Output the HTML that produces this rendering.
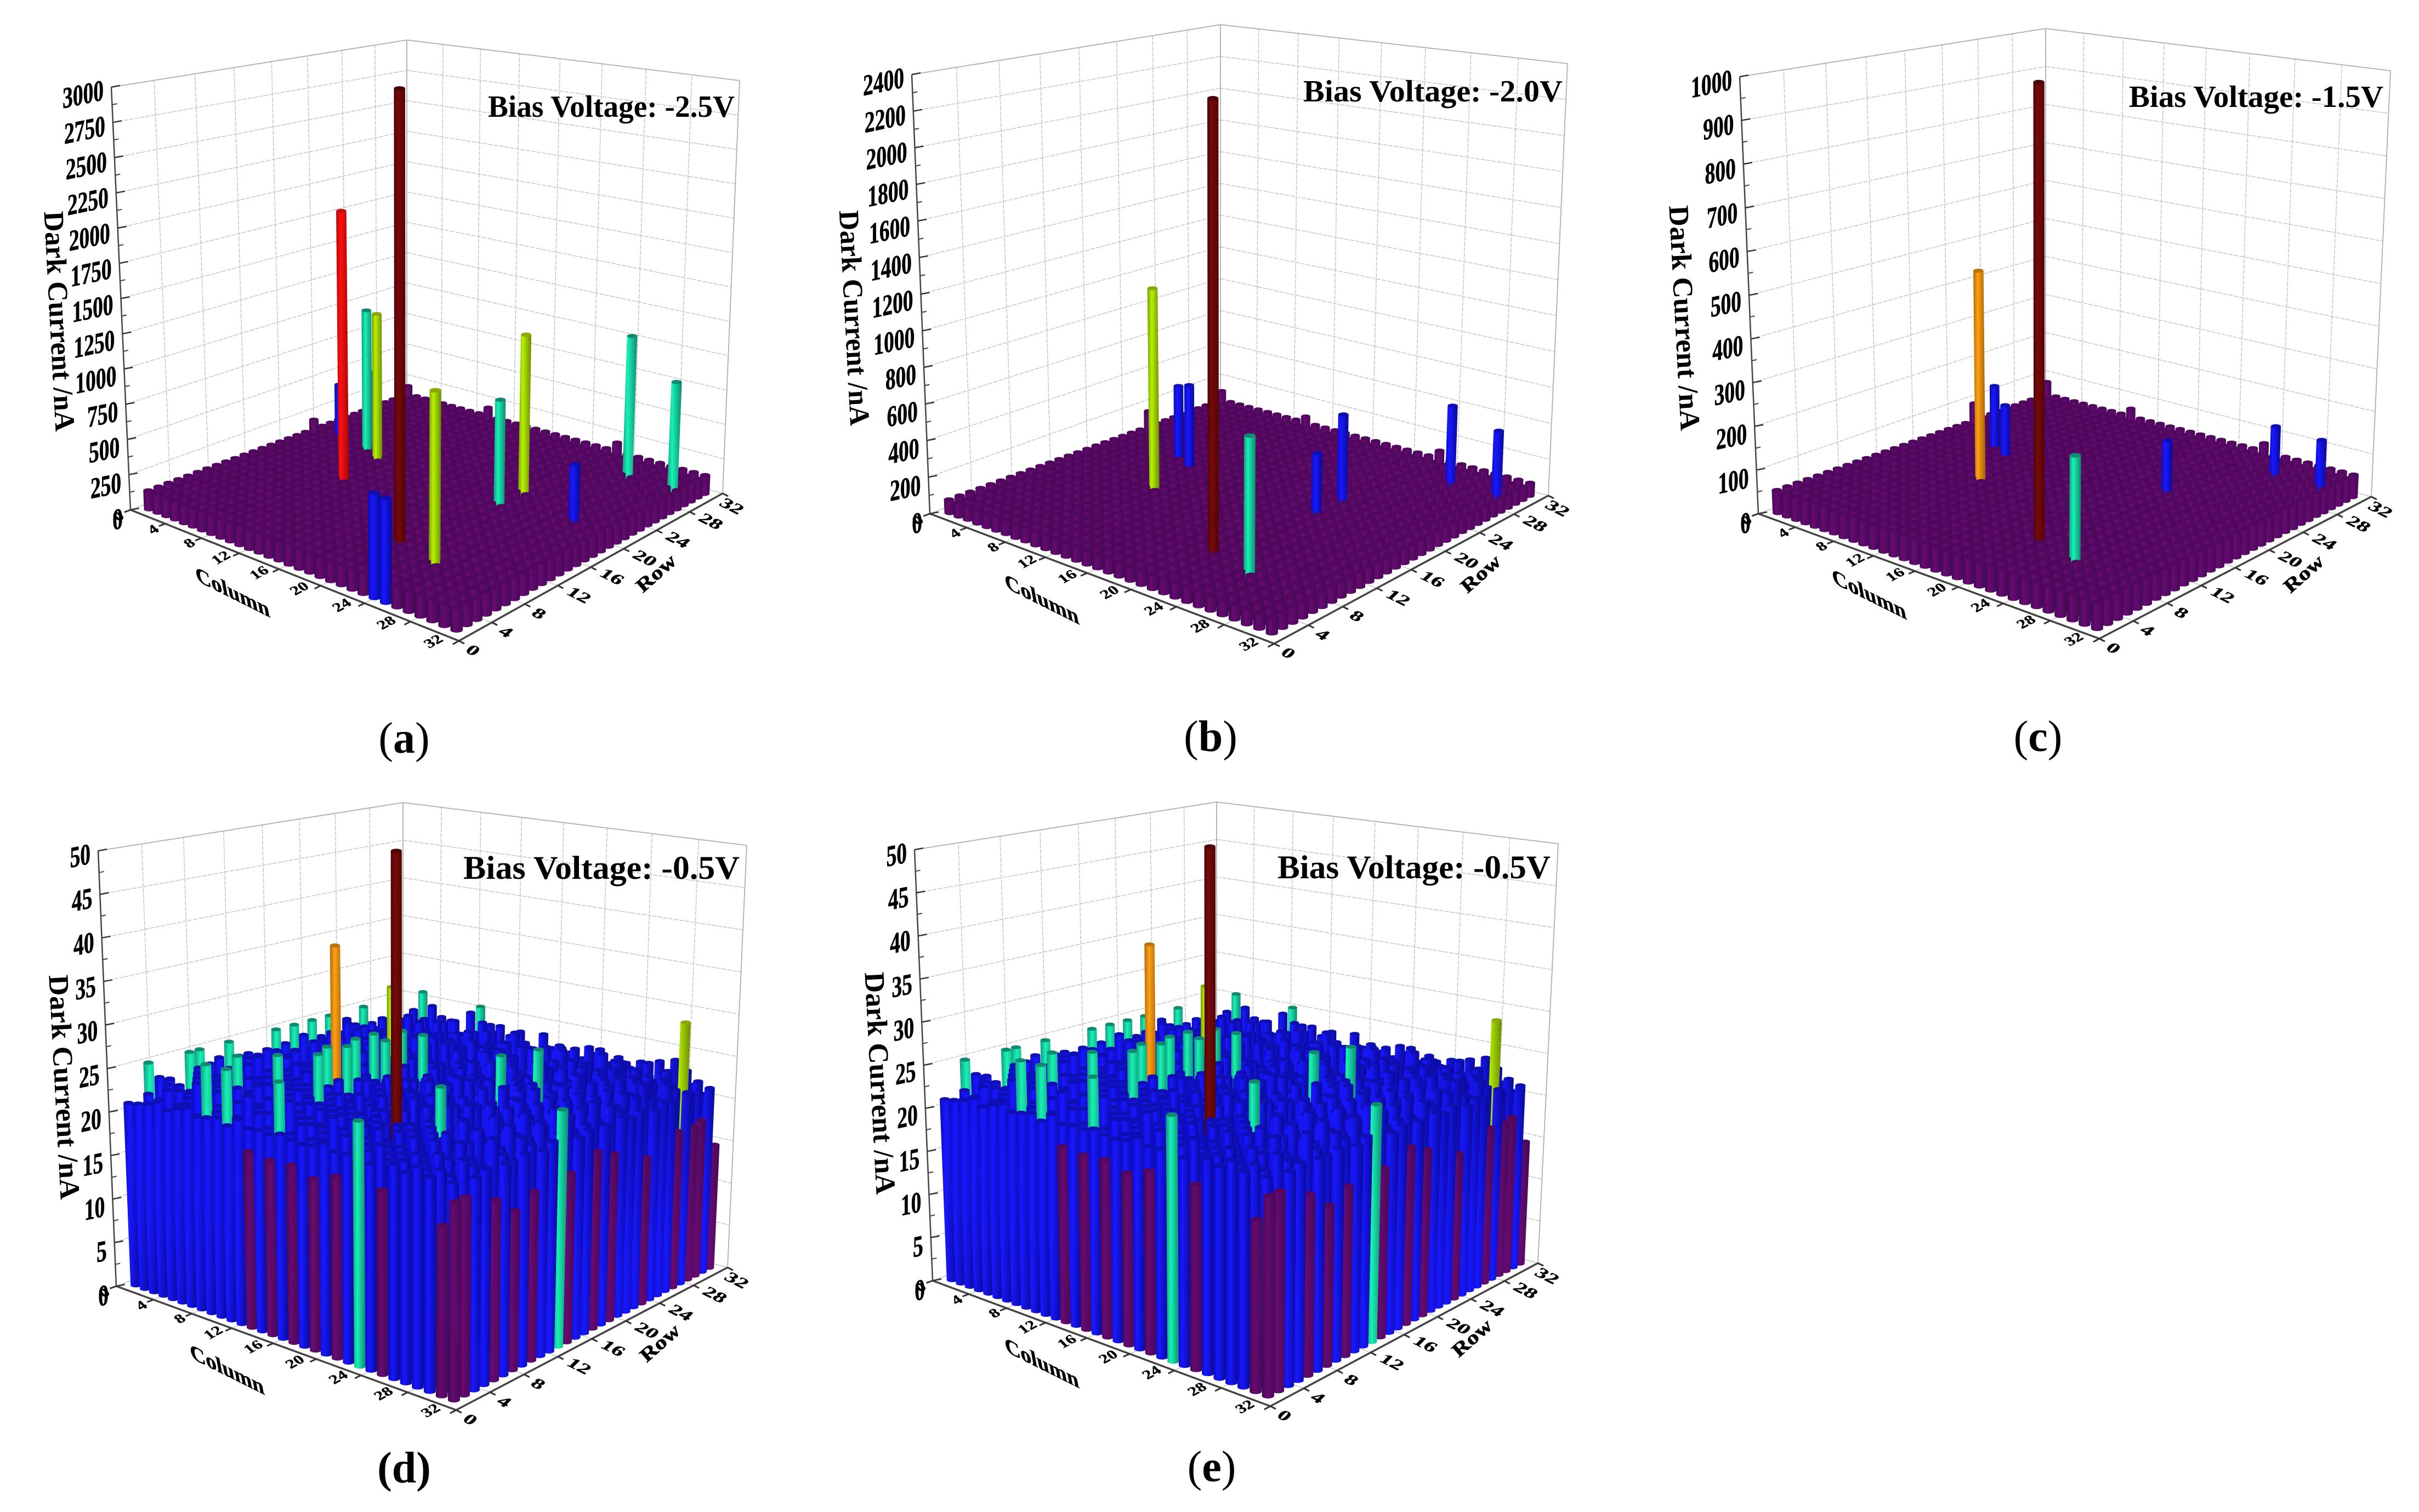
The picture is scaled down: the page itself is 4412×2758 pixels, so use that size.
<!DOCTYPE html>
<html lang="en">
<head>
<meta charset="utf-8">
<title>Dark current maps at several bias voltages</title>
<style>
html,body{margin:0;padding:0;background:#fff;}
svg{display:block;}
text{font-family:"Liberation Serif",serif;fill:#000;}
.b{font-weight:bold;}
.heavy{stroke:#000;stroke-width:.9px;}
</style>
</head>
<body>
<svg id="figure" xmlns="http://www.w3.org/2000/svg" width="4412" height="2758" viewBox="0 0 4412 2758">
  <rect x="0" y="0" width="4412" height="2758" fill="#fff"/>
  <defs id="defs"></defs>

  <g id="panel-a">
    <g id="plot-a"></g>
    <text class="b" transform="translate(108,586) rotate(87)" y="17" text-anchor="middle" font-size="52" textLength="402" lengthAdjust="spacingAndGlyphs">Dark Current /nA</text>
    <text class="b heavy" transform="matrix(.78,.39,.15,.8,424,1081)" y="15" text-anchor="middle" font-size="50">Column</text>
    <text class="b heavy" transform="matrix(.68,-.6,.48,.55,1197,1046)" y="15" text-anchor="middle" font-size="48">Row</text>
    <text class="b" x="890" y="213" font-size="56" textLength="450" lengthAdjust="spacingAndGlyphs">Bias Voltage: -2.5V</text>
    <text x="737" y="1373" text-anchor="middle" font-size="80">(<tspan class="b">a</tspan>)</text>
  </g>

  <g id="panel-b">
    <g id="plot-b"></g>
    <text class="b" transform="translate(1558,580) rotate(87)" y="17" text-anchor="middle" font-size="52" textLength="393" lengthAdjust="spacingAndGlyphs">Dark Current /nA</text>
    <text class="b heavy" transform="matrix(.78,.39,.15,.8,1900,1094)" y="15" text-anchor="middle" font-size="50">Column</text>
    <text class="b heavy" transform="matrix(.68,-.6,.48,.55,2701,1047)" y="15" text-anchor="middle" font-size="48">Row</text>
    <text class="b" x="2377" y="185" font-size="56" textLength="473" lengthAdjust="spacingAndGlyphs">Bias Voltage: -2.0V</text>
    <text x="2208" y="1370" text-anchor="middle" font-size="80">(<tspan class="b">b</tspan>)</text>
  </g>

  <g id="panel-c">
    <g id="plot-c"></g>
    <text class="b" transform="translate(3072,580) rotate(87)" y="17" text-anchor="middle" font-size="52" textLength="411" lengthAdjust="spacingAndGlyphs">Dark Current /nA</text>
    <text class="b heavy" transform="matrix(.78,.39,.15,.8,3409,1085)" y="15" text-anchor="middle" font-size="50">Column</text>
    <text class="b heavy" transform="matrix(.68,-.6,.48,.55,4202,1047)" y="15" text-anchor="middle" font-size="48">Row</text>
    <text class="b" x="3883" y="195" font-size="56" textLength="464" lengthAdjust="spacingAndGlyphs">Bias Voltage: -1.5V</text>
    <text x="3717" y="1370" text-anchor="middle" font-size="80">(<tspan class="b">c</tspan>)</text>
  </g>

  <g id="panel-d">
    <g id="plot-d"></g>
    <text class="b" transform="translate(117,1983) rotate(87)" y="17" text-anchor="middle" font-size="52" textLength="410" lengthAdjust="spacingAndGlyphs">Dark Current /nA</text>
    <text class="b heavy" transform="matrix(.78,.39,.15,.8,414,2499)" y="15" text-anchor="middle" font-size="50">Column</text>
    <text class="b heavy" transform="matrix(.68,-.6,.48,.55,1204,2450)" y="15" text-anchor="middle" font-size="48">Row</text>
    <text class="b" x="845" y="1603" font-size="60" textLength="504" lengthAdjust="spacingAndGlyphs">Bias Voltage: -0.5V</text>
    <text class="b" x="737" y="2704" text-anchor="middle" font-size="80">(d)</text>
  </g>

  <g id="panel-e">
    <g id="plot-e"></g>
    <text class="b" transform="translate(1605,1976) rotate(87)" y="17" text-anchor="middle" font-size="52" textLength="406" lengthAdjust="spacingAndGlyphs">Dark Current /nA</text>
    <text class="b heavy" transform="matrix(.78,.39,.15,.8,1900,2487)" y="15" text-anchor="middle" font-size="50">Column</text>
    <text class="b heavy" transform="matrix(.68,-.6,.48,.55,2685,2441)" y="15" text-anchor="middle" font-size="48">Row</text>
    <text class="b" x="2330" y="1602" font-size="60" textLength="498" lengthAdjust="spacingAndGlyphs">Bias Voltage: -0.5V</text>
    <text x="2210" y="2702" text-anchor="middle" font-size="80">(<tspan class="b">e</tspan>)</text>
  </g>
</svg>

<script>
/* ---------- chart data ---------- */
const columnTicks = [0,4,8,12,16,20,24,28,32];
const rowTicks = [0,4,8,12,16,20,24,28,32];

const yTicksA = [0,250,500,750,1000,1250,1500,1750,2000,2250,2500,2750,3000];
const yTicksB = [0,200,400,600,800,1000,1200,1400,1600,1800,2000,2200,2400];
const yTicksC = [0,100,200,300,400,500,600,700,800,900,1000];
const yTicksD = [0,5,10,15,20,25,30,35,40,45,50];

/* Colour class boundaries (nA) */
const levelsA = [375,750,1170,1500,1875,2500];
const levelsB = [250,600,900,1400,1800,2100];
const levelsC = [125,250,375,500,625,800];
const levelsD = [20,24.9,28.5,35,42,47];

/* Typical pixel current in the three high-bias maps */
const baseA = 135;
const baseB = 75;
const baseC = 53;

/* Defective pixels: column, row, current */
const spikeColsA = [21,10,7,9,3,6,24,25,25,22,22,26,30,28];
const spikeRowsA = [7,13,19,18,20,21,1,1,6,17,20,28,28,18];
const spikeValsA = [3080,2046,1160,1185,496,627,654,646,1196,822,1213,1108,851,481];

const spikeColsB = [21,10,7,9,25,22,22,26,30];
const spikeRowsB = [7,13,19,18,6,17,20,28,28];
const spikeValsB = [2364,1165,466,519,724,367,519,483,407];

const spikeColsC = [21,10,6,8,25,22,26,30];
const spikeRowsC = [7,13,19,18,6,20,28,28];
const spikeValsC = [1025,530,192,165,259,159,156,151];

/* Slightly raised pixels on the back edges */
const bumpColsA = [1,10,23,1];
const bumpRowsA = [19,31,31,31];
const bumpValsA = [207,200,198,200];

const bumpColsB = [1,10,23,1];
const bumpRowsB = [22,31,31,31];
const bumpValsB = [168,110,120,130];

const bumpColsC = [1,10,23,1];
const bumpRowsC = [22,31,31,31];
const bumpValsC = [95,72,72,85];

/* Low-bias map: one line per column, values for rows 1..31 (nA) */
const currentLowBias = [
[21,20.5,25,23,22.5,20.5,25,25,23,22,25,23,23,22.5,22.5,25,23,25,23,25,22.7,25,22.6,24,23,25,22.6,21.7,21.7,22.6,21.9],
[21.2,22,21,23,22,21,23,22,24,21,22,23,21,22,23,22,21,24,22,23,21,22,24,21,23,22,21,23,22,21,23.4],
[21.5,21,23,22,21,24,22,21,23,22,21,22,24,21,22,23,21,22,23,24,22,21,23,22,21,24,22,21,23,22,26],
[22,23,21,22,24,21,23,22,21,23,24,22,21,23,22,21,24,22,21,23,22,24,21,22,23,21,22,24,21,23,24.4],
[21.3,21,22,24,21,23,22,21,24,22,21,23,22,24,21,22,23,21,24,22,23,21,22,23,24,22,21,23,22,21,23.2],
[21.8,22,24,21,23,22,21,23,22,21,24,22,23,21,22,24,21,23,22,21,23,24,22,21,23,22,24,21,22,23,23],
[22.2,21,22,23,21,24,22,21,23,24,22,21,23,22,24,21,22,23,21,22,24,21,23,22,21,23,22,24,21,22,21.5],
[21.5,27,22,21,27,22,23,21,24,22,21,23,22,21,23,24,22,21,23,22,21,24,22,23,21,22,23,21,24,22,24.5],
[21.7,22,21,24,22,21,23,22,21,23,22,24,21,22,23,21,24,22,21,23,22,21,24,22,23,21,22,23,21,22,25.5],
[22,27,23,21,22,24,27,21,23,22,21,24,38,22,21,23,22,21,24,22,23,21,22,24,21,23,22,21,23,24,23.4],
[21.4,22,24,21,23,22,21,23,22,21,27,22,23,27,21,27,23,32,22,21,23,24,21,22,23,21,24,22,21,23,23.5],
[22.4,21,23,22,21,24,22,21,27,23,22,27,21,23,22,21,24,27,21,23,22,21,24,22,23,21,22,24,21,22,22.5],
[19.2,23,21,22,24,21,23,22,21,24,22,21,23,22,27,21,22,24,21,23,22,21,23,22,24,21,23,22,21,22,23.3],
[21.8,21,22,24,21,23,22,21,23,22,24,21,22,23,21,24,22,27,21,23,22,24,21,22,23,21,22,23,24,21,21],
[18.9,27,21,23,22,21,24,22,21,23,22,21,24,22,23,21,22,24,21,22,23,21,22,24,21,23,22,21,23,22,20.8],
[22,21,23,22,21,24,22,23,21,22,24,21,23,22,21,23,24,22,21,23,22,21,24,22,23,21,22,23,21,24,22],
[19,23,21,22,24,21,23,22,21,24,22,21,23,22,24,21,22,23,21,24,22,23,21,22,23,24,21,22,23,21,22.3],
[21.5,21,22,24,21,23,22,21,24,22,23,21,22,24,21,23,22,21,23,22,24,21,23,22,21,24,22,21,23,22,22],
[18.2,22,24,21,23,22,21,23,22,21,24,22,23,21,22,24,21,23,22,21,23,24,22,21,23,22,21,24,22,23,21.5],
[22.3,21,23,22,21,24,22,21,23,24,22,21,23,22,21,24,22,23,21,22,24,21,22,23,21,23,24,22,21,22,22.3],
[19.1,23,21,22,24,21,52,22,21,23,22,24,21,23,22,21,24,22,21,23,22,21,24,23,22,21,23,22,24,21,21.5],
[21.7,21,22,24,21,23,22,21,24,22,21,23,22,21,24,22,27,21,23,22,21,24,22,23,21,22,23,21,24,22,22],
[25.5,22,24,21,23,22,21,23,22,24,21,22,23,21,22,24,21,23,22,27,23,21,24,22,21,23,22,24,21,23,22],
[21.4,23,21,22,24,21,23,27,21,22,24,21,23,22,21,23,22,24,21,22,23,21,22,24,21,23,22,21,23,22,21],
[19,21,22,24,21,23,22,21,23,22,21,24,22,23,21,22,24,21,23,22,21,24,22,21,23,22,24,21,22,23,21],
[22,22,24,21,23,22,21,24,22,21,23,22,21,24,22,23,21,22,24,21,23,22,21,23,24,22,21,23,22,21,23],
[21.5,23,21,22,24,21,22,23,21,24,22,21,23,22,21,24,22,23,21,22,24,21,23,22,21,23,22,24,21,22,20.5],
[22.4,21,23,22,21,23,24,22,21,23,22,24,21,22,23,21,22,24,21,23,22,21,24,22,23,21,22,21,23,24,22],
[21.6,22,21,24,22,21,23,22,24,21,22,23,21,24,22,21,23,22,21,24,22,23,21,22,24,21,23,22,21,23,21],
[17.1,21,23,22,21,24,22,21,23,22,24,21,22,23,21,22,24,21,23,22,21,23,24,22,21,23,22,29.5,21,22,20.2],
[19.8,19.9,21.5,22,18.4,21.7,16.5,22,17.7,21.6,22.2,25.2,18.1,21.5,22,19.3,21.8,18.3,22,21.6,22.1,16.4,21.4,22,21.7,17.9,22,17.8,18.1,21.5,14.5]
];

/* ---------- rendering ---------- */
const NS = 'http://www.w3.org/2000/svg';
const classNames = ['purple','blue','cyan','lime','orange','red','maroon'];
const classStops = [
  ['#3e0a50','#680a72','#450a56'],
  ['#0b0bc0','#1818ff','#0a0a96'],
  ['#129a80','#18f2b4','#0e8a70'],
  ['#7d9c08','#b6f200','#6c8a05'],
  ['#b06c08','#ffa012','#a06008'],
  ['#b00a0a','#ff1010','#a00808'],
  ['#4c0505','#760a0a','#520505']
];
const capColors = ['#52085f','#0f0fb4','#0f8a70','#8aa806','#b87408','#c01010','#4a0606'];

const defs = document.getElementById('defs');
classNames.forEach(function (name, i) {
  const grad = document.createElementNS(NS, 'linearGradient');
  grad.setAttribute('id', 'grad-' + name);
  grad.setAttribute('x1', '0');
  grad.setAttribute('x2', '1');
  grad.setAttribute('y1', '0');
  grad.setAttribute('y2', '0');
  [0, 0.36, 1].forEach(function (off, k) {
    const stop = document.createElementNS(NS, 'stop');
    stop.setAttribute('offset', off);
    stop.setAttribute('stop-color', classStops[i][k]);
    grad.appendChild(stop);
  });
  defs.appendChild(grad);
});

function makeCamera(L, F, R, B, LT, BT, RT) {
  const dx1 = F[0]-R[0], dy1 = F[1]-R[1];
  const dx2 = B[0]-R[0], dy2 = B[1]-R[1];
  const sx = L[0]-F[0]+R[0]-B[0], sy = L[1]-F[1]+R[1]-B[1];
  const den = dx1*dy2-dy1*dx2;
  const g = (sx*dy2-sy*dx2)/den;
  const h = (dx1*sy-dy1*sx)/den;
  const a = F[0]*(1+g)-L[0], b = B[0]*(1+h)-L[0];
  const d = F[1]*(1+g)-L[1], e = B[1]*(1+h)-L[1];
  const H0 = L[1]-LT[1];
  const vx = B[0];
  return {
    L:L, F:F, R:R, B:B, LT:LT, BT:BT, RT:RT, g:g, h:h,
    project: function (c, r, z) {
      const s = c/32, t = r/32;
      const w = 1+g*s+h*t;
      const x = (a*s+b*t+L[0])/w;
      const y = (d*s+e*t+L[1])/w;
      const hgt = z*H0/w;
      return {x:x+hgt*(x-vx)/12400, y:y-hgt, w:w};
    }
  };
}

function mix(p, q, f) { return [p[0]+(q[0]-p[0])*f, p[1]+(q[1]-p[1])*f]; }

function addLine(parent, p, q, stroke, width, name, dash) {
  const el = document.createElementNS(NS, 'line');
  el.setAttribute('x1', p[0].toFixed(1));
  el.setAttribute('y1', p[1].toFixed(1));
  el.setAttribute('x2', q[0].toFixed(1));
  el.setAttribute('y2', q[1].toFixed(1));
  el.setAttribute('stroke', stroke);
  el.setAttribute('stroke-width', width);
  if (dash) el.setAttribute('stroke-dasharray', dash);
  
  
  parent.appendChild(el);
}

function addLabel(parent, str, transform, size, name) {
  const el = document.createElementNS(NS, 'text');
  el.setAttribute('transform', transform);
  el.setAttribute('text-anchor', 'middle');
  el.setAttribute('font-size', size);
  el.setAttribute('font-weight', 'bold');
  el.setAttribute('stroke', '#000');
  el.setAttribute('stroke-width', '0.7');
  el.textContent = str;
  
  
  parent.appendChild(el);
  return el;
}

function drawFrame(parent, cam, yTicks) {
  const yMax = yTicks[yTicks.length-1];
  const gridColor = '#c6c6c6';
  const edgeColor = '#b0b0b0';
  const fL = function (t) { return t*(1+cam.h)/(1+cam.h*t); };
  const fR = function (s) { return s*(1+cam.g+cam.h)/(1+cam.h+cam.g*s); };

  yTicks.forEach(function (v) {
    const z = v/yMax;
    const a = mix(cam.L, cam.LT, z), b = mix(cam.B, cam.BT, z), c = mix(cam.R, cam.RT, z);
    addLine(parent, a, b, gridColor, 1.5, 'wall-gridline-left', '8 2');
    addLine(parent, b, c, gridColor, 1.5, 'wall-gridline-right', '8 2');
  });
  rowTicks.forEach(function (r) {
    const f = fL(r/32);
    addLine(parent, mix(cam.L, cam.B, f), mix(cam.LT, cam.BT, f), gridColor, 1.5, 'wall-gridline-row', '8 2');
  });
  columnTicks.forEach(function (c) {
    const f = fR(c/32);
    addLine(parent, mix(cam.B, cam.R, f), mix(cam.BT, cam.RT, f), gridColor, 1.5, 'wall-gridline-column', '8 2');
  });
  columnTicks.forEach(function (c) {
    const p = cam.project(c, 0, 0), q = cam.project(c, 32, 0);
    addLine(parent, [p.x,p.y], [q.x,q.y], gridColor, 1.5, 'floor-gridline-column');
  });
  rowTicks.forEach(function (r) {
    const p = cam.project(0, r, 0), q = mix(cam.F, cam.R, r/32);
    addLine(parent, [p.x,p.y], q, gridColor, 1.5, 'floor-gridline-row');
  });
  addLine(parent, cam.LT, cam.BT, edgeColor, 1.8, 'wall-top-edge');
  addLine(parent, cam.BT, cam.RT, edgeColor, 1.8, 'wall-top-edge');
  addLine(parent, cam.R, cam.RT, edgeColor, 1.8, 'wall-right-edge');
  addLine(parent, cam.B, cam.BT, edgeColor, 1.8, 'wall-back-edge');
}

function drawAxes(parent, cam, yTicks) {
  const yMax = yTicks[yTicks.length-1];
  addLine(parent, cam.L, cam.LT, '#444', 2.5, 'y-axis-line');
  addLine(parent, cam.L, cam.F, '#444', 3.5, 'column-axis-line');
  addLine(parent, cam.F, cam.R, '#444', 3.5, 'row-axis-line');

  const step = 1/(yTicks.length-1);
  yTicks.forEach(function (v, i) {
    const p = mix(cam.L, cam.LT, v/yMax);
    addLine(parent, p, [p[0]+16, p[1]-3], '#333', 2.5, 'y-major-tick');
    if (i < yTicks.length-1) {
      const m = mix(cam.L, cam.LT, v/yMax+step/2);
      addLine(parent, m, [m[0]+9, m[1]-2], '#444', 2, 'y-minor-tick');
    }
    const z = v/yMax;
    const el = addLabel(parent, String(v), 'matrix(.72,-.15,0,1.04,' + (p[0]-14).toFixed(1) + ',' + (p[1]+23+(1-z)*10).toFixed(1) + ')', 52, 'y-tick-label');
    el.setAttribute('text-anchor', 'end');
  });

  columnTicks.forEach(function (c) {
    const p = cam.project(c, 0, 0);
    const q = cam.project(c, -0.6, 0);
    addLine(parent, [p.x,p.y], [q.x,q.y], '#333', 3, 'column-tick');
    const dx = c < 10 ? -16 : -20 - c*0.65;
    const dy = 18 - c*0.35;
    addLabel(parent, String(c), 'matrix(.62,-.33,.42,.42,' + (p.x+dx).toFixed(1) + ',' + (p.y+dy).toFixed(1) + ')', 44, 'column-tick-label');
  });
  rowTicks.forEach(function (r) {
    const p = mix(cam.F, cam.R, r/32);
    addLine(parent, p, [p[0]+10, p[1]+5], '#333', 3, 'row-tick');
    let dx = r < 10 ? 19 : 32;
    let dy = 24;
    if (r === rowTicks[rowTicks.length-1]) { dx = 10; dy = 30; }
    addLabel(parent, String(r), 'matrix(.8,.4,-.45,.45,' + (p[0]+dx).toFixed(1) + ',' + (p[1]+dy).toFixed(1) + ')', 46, 'row-tick-label');
  });
}

function drawBar(parent, cam, c, r, value, yMax, levels) {
  let k = 0;
  while (k < levels.length && value >= levels[k]) k++;
  const bottom = cam.project(c, r, 0);
  const top = cam.project(c, r, value/yMax);
  const W = 19/bottom.w;
  const rx = W/2, ry = W*0.2;

  const side = document.createElementNS(NS, 'path');
  side.setAttribute('d',
    'M' + (top.x-rx).toFixed(1) + ' ' + top.y.toFixed(1) +
    'L' + (bottom.x-rx).toFixed(1) + ' ' + bottom.y.toFixed(1) +
    'A' + rx.toFixed(1) + ' ' + ry.toFixed(1) + ' 0 0 0 ' + (bottom.x+rx).toFixed(1) + ' ' + bottom.y.toFixed(1) +
    'L' + (top.x+rx).toFixed(1) + ' ' + top.y.toFixed(1) + 'Z');
  side.setAttribute('fill', 'url(#grad-' + classNames[k] + ')');
  
  
  parent.appendChild(side);

  const cap = document.createElementNS(NS, 'ellipse');
  cap.setAttribute('cx', top.x.toFixed(1));
  cap.setAttribute('cy', top.y.toFixed(1));
  cap.setAttribute('rx', rx.toFixed(1));
  cap.setAttribute('ry', ry.toFixed(1));
  cap.setAttribute('fill', capColors[k]);
  
  
  parent.appendChild(cap);
}

function drawSparsePanel(id, cam, yTicks, levels, base, bCols, bRows, bVals, sCols, sRows, sVals) {
  const parent = document.getElementById(id);
  const yMax = yTicks[yTicks.length-1];
  const over = {};
  bCols.forEach(function (c, i) { over[c + '_' + bRows[i]] = bVals[i]; });
  sCols.forEach(function (c, i) { over[c + '_' + sRows[i]] = sVals[i]; });
  drawFrame(parent, cam, yTicks);
  for (let c = 1; c <= 31; c++) {
    for (let r = 31; r >= 1; r--) {
      const key = c + '_' + r;
      const v = key in over ? over[key] : base;
      drawBar(parent, cam, c, r, v, yMax, levels);
    }
  }
  drawAxes(parent, cam, yTicks);
}

function drawDensePanel(id, cam, yTicks, levels, matrix) {
  const parent = document.getElementById(id);
  const yMax = yTicks[yTicks.length-1];
  drawFrame(parent, cam, yTicks);
  matrix.forEach(function (line, ci) {
    for (let ri = line.length-1; ri >= 0; ri--) {
      drawBar(parent, cam, ci+1, ri+1, line[ri], yMax, levels);
    }
  });
  drawAxes(parent, cam, yTicks);
}

drawSparsePanel('plot-a',
  makeCamera([238,930],[837,1169],[1318,900],[742,738],[203,159],[742,73],[1349,147]),
  yTicksA, levelsA, baseA, bumpColsA, bumpRowsA, bumpValsA, spikeColsA, spikeRowsA, spikeValsA);

drawSparsePanel('plot-b',
  makeCamera([1696,937],[2324,1174],[2824,904],[2226,740],[1663,136],[2226,45],[2859,116]),
  yTicksB, levelsB, baseB, bumpColsB, bumpRowsB, bumpValsB, spikeColsB, spikeRowsB, spikeValsB);

drawSparsePanel('plot-c',
  makeCamera([3207,937],[3829,1165],[4325,906],[3731,745],[3173,140],[3731,52],[4360,129]),
  yTicksC, levelsC, baseC, bumpColsC, bumpRowsC, bumpValsC, spikeColsC, spikeRowsC, spikeValsC);

drawDensePanel('plot-d',
  makeCamera([212,2346],[832,2572],[1327,2312],[735,2150],[179,1552],[735,1464],[1362,1542]),
  yTicksD, levelsD, currentLowBias);

drawDensePanel('plot-e',
  makeCamera([1701,2336],[2317,2565],[2805,2304],[2219,2146],[1668,1550],[2219,1463],[2842,1539]),
  yTicksD, levelsD, currentLowBias);
</script>
</body>
</html>
